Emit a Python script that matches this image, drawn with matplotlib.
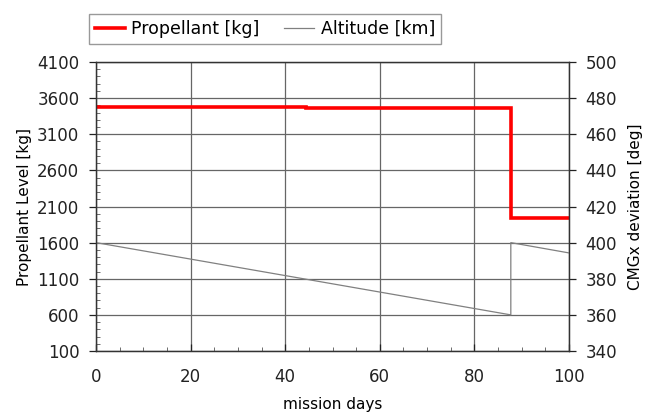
import numpy as np
import matplotlib.pyplot as plt
from matplotlib.ticker import MultipleLocator

# propellant level [kg], step profile
prop_days = [0, 44.5, 44.5, 87.7, 87.7, 100]
prop_kg = [3480, 3480, 3465, 3465, 1935, 1935]

# altitude / CMGx deviation (right axis)
alt_days = [0, 87.7, 87.7, 100]
alt_val = [400, 360, 400, 394.3]

fig = plt.figure(figsize=(6.55, 4.15), dpi=100)
ax = fig.add_axes([96 / 655, 1 - 351 / 415, 473 / 655, 289 / 415])
ax2 = ax.twinx()

l1, = ax.plot(prop_days, prop_kg, color='#ff0000', lw=2.6, solid_joinstyle='miter')
l2, = ax2.plot(alt_days, alt_val, color='#808080', lw=0.9)

ax.set_xlim(0, 100)
ax.set_ylim(100, 4100)
ax2.set_ylim(340, 500)
ax.xaxis.set_major_locator(MultipleLocator(20))
ax.xaxis.set_minor_locator(MultipleLocator(5))
ax.yaxis.set_major_locator(MultipleLocator(500, offset=100))
ax.yaxis.set_minor_locator(MultipleLocator(100))
ax2.yaxis.set_major_locator(MultipleLocator(20))

ax.grid(True, which='major', color='#666666', lw=0.9)
ax.set_axisbelow(True)
for a in (ax, ax2):
    for s in a.spines.values():
        s.set_color('#333333')
        s.set_linewidth(0.9)

ax.tick_params(axis='y', which='major', labelsize=12, length=5, width=0.9,
               pad=7, direction='out', colors='#222222')
ax.tick_params(axis='x', which='major', labelsize=12, length=5, width=0.9,
               direction='in', pad=12, colors='#222222')
ax.tick_params(axis='both', which='minor', length=3, direction='in', colors='#555555')
ax2.tick_params(axis='y', labelsize=12, length=5, width=0.9, pad=7,
                direction='out', colors='#222222')

ax.set_xlabel('mission days', fontsize=11, labelpad=8)
ax.set_ylabel('Propellant Level [kg]', fontsize=11, labelpad=4)
ax2.set_ylabel('CMGx deviation [deg]', fontsize=11, labelpad=8)

leg = fig.legend([l1, l2], ['Propellant [kg]', 'Altitude [km]'], loc='center',
                 bbox_to_anchor=(265 / 655, 1 - 29 / 415), ncol=2, fontsize=12.5,
                 frameon=True, fancybox=False, edgecolor='#808080',
                 handlelength=1.7, handletextpad=0.4, columnspacing=1.4, borderpad=0.35)
leg.get_frame().set_linewidth(1.0)

fig.savefig('out.png', dpi=100)
